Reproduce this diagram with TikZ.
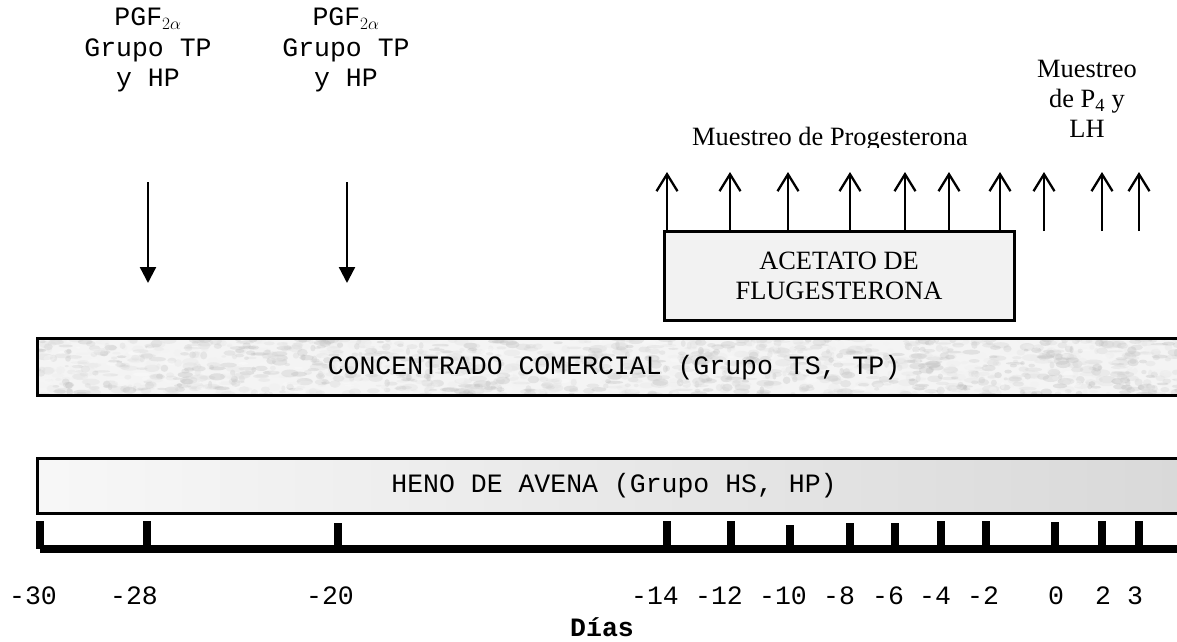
\documentclass[tikz,border=0pt]{standalone}
\usepackage{fontspec}
\setmainfont{Liberation Serif}
\setmonofont{Liberation Mono}
\usetikzlibrary{arrows.meta}
\begin{document}
\begin{tikzpicture}[x=1pt,y=-1pt,
  mono/.style={font=\ttfamily\fontsize{26.5}{30.5}\selectfont, inner sep=0pt, align=center},
  serif/.style={font=\rmfamily\fontsize{26.4}{30}\selectfont, inner sep=0pt, align=center},
  daylab/.style={font=\ttfamily\fontsize{26.5}{30}\selectfont, inner sep=0pt, anchor=base},
  uparrow/.style={line width=2.3pt, -{Straight Barb[length=17pt,width=21pt,line width=2.3pt]}},
  downarrow/.style={line width=2.3pt, -{Triangle[length=16pt,width=16pt]}},
  bandline/.style={draw=black, line width=3pt},
  tickbar/.style={fill=black},
  afbox/.style={draw=black, line width=3pt, fill=gray!10, minimum width=350pt, minimum height=89pt, inner sep=0pt, align=center, font=\rmfamily\fontsize{26.4}{30}\selectfont},
]
\useasboundingbox (0,0) rectangle (1177,641);
\clip (0,0) rectangle (1177,641);

% top PGF labels
\node[mono] (pgfA) at (148,50) {PGF$_{2\alpha}$\\Grupo TP\\y HP};
\node[mono] (pgfB) at (346,50) {PGF$_{2\alpha}$\\Grupo TP\\y HP};
\coordinate (dA1) at (148,182); \coordinate (dA2) at (148,283);
\coordinate (dB1) at (347,182); \coordinate (dB2) at (347,283);
\draw[downarrow] (dA1) -- (dA2);
\draw[downarrow] (dB1) -- (dB2);

% sampling labels
\begin{scope}
  \clip (600,0) rectangle (1030,147);
  \node[serif, anchor=base] (mprog) at (830,145) {Muestreo de Progesterona};
\end{scope}
\node[serif] (mlh) at (1087,99) {Muestreo\\de P\textsubscript{4} y\\LH};

% acetato box
\node[afbox] (af) at (839,275.5) {ACETATO DE\\FLUGESTERONA};

% up arrows
\foreach \x/\n in {667/1,730/2,788/3,850/4,905/5,949/6,1000/7}{
  \coordinate (u\n) at (\x,172);
  \draw[uparrow] (u\n |- af.north) -- (u\n);
}
\foreach \x/\n in {1044/8,1102/9,1139/10}{
  \coordinate (b\n) at (\x,231);
  \coordinate (u\n) at (\x,172);
  \draw[uparrow] (b\n) -- (u\n);
}

% concentrado band (textured)
\begin{scope}
  \clip (37,338) rectangle (1190,395);
  \fill[gray!9] (37,338) rectangle (1190,395);
  \pgfmathsetseed{17}
  \foreach \i in {1,...,1800}{
    \pgfmathsetmacro{\xx}{37+1150*rnd}
    \pgfmathsetmacro{\yy}{338+57*rnd}
    \pgfmathsetmacro{\gv}{30*rnd}
    \pgfmathsetmacro{\ra}{2+7*rnd}
    \pgfmathsetmacro{\rb}{1+3*rnd}
    \fill[black!\gv!white, opacity=0.3] (\xx,\yy) ellipse ({\ra} and {\rb});
  }
\end{scope}
\draw[bandline] (37,338) rectangle (1190,395);
\node[mono] (conc) at (614,368) {CONCENTRADO COMERCIAL (Grupo TS, TP)};

% heno band
\shade[left color=gray!6, right color=gray!30] (37,458) rectangle (1190,513);
\draw[bandline] (37,458) rectangle (1190,513);
\node[mono] (heno) at (614,486) {HENO DE AVENA (Grupo HS, HP)};

% axis
\fill[tickbar] (40,545) rectangle (1180,553);
\foreach \x/\t in {40/521,147/521,338/523,667/521,731/521,790/525,850/523,895/523,941/521,986/521,1055/522,1102/521,1139/521}{
  \fill[tickbar] (\x-4,\t) rectangle (\x+4,549);
}

% day labels
\foreach \x/\l/\n in {33/-30/m30,134/-28/m28,330/-20/m20,655/-14/m14,719/-12/m12,783/-10/m10,839/-8/m8,888/-6/m6,935/-4/m4,983/-2/m2,1056/0/z0,1103/2/p2,1135/3/p3}{
  \node[daylab] (d\n) at (\x,604) {\l};
}
\node[daylab, font=\ttfamily\bfseries\fontsize{26.5}{30}\selectfont] (dias) at (602,636) {Días};
\end{tikzpicture}
\end{document}
